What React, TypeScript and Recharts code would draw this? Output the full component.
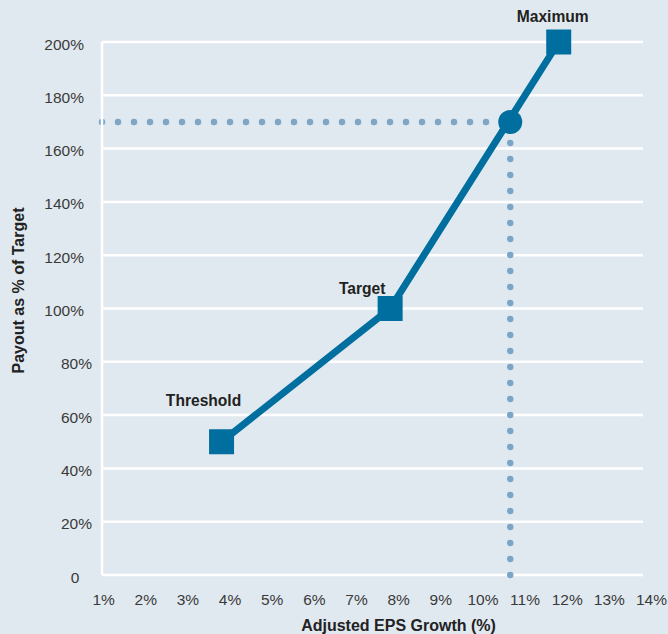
import React from "react";
import {
  ComposedChart,
  Line,
  XAxis,
  YAxis,
  CartesianGrid,
  ReferenceLine,
  ReferenceDot,
  LabelList,
  Label,
} from "recharts";

// payout curve points
const growth = [4, 8, 12];
const payout = [50, 100, 200];
const pointNames = ["Threshold", "Target", "Maximum"];

// actual result marker
const actualGrowth = 10.85;
const actualPayout = 170;

const xTicks = [1, 2, 3, 4, 5, 6, 7, 8, 9, 10, 11, 12, 13, 14];
const yTicks = [0, 20, 40, 60, 80, 100, 120, 140, 160, 180, 200];

const xMin = 1.163;
const xMax = 14;

const BLUE = "#006e9e";
const DOT_BLUE = "#7ba6c8";
const BG = "#e1e9f0";
const FONT = '"Liberation Sans", Arial, Helvetica, sans-serif';

const labelOffsets: Record<string, { dx: number; dy: number }> = {
  Threshold: { dx: -18, dy: -36 },
  Target: { dx: -28, dy: -15 },
  Maximum: { dx: -6, dy: -20 },
};

const data = growth.map((g, i) => ({ growth: g, payout: payout[i], name: pointNames[i] }));

function XTick(props: any) {
  const { x, y, payload } = props;
  return (
    <text x={x + 8.5} y={y + 29.5} textAnchor="middle" fill="#3a3a3a" fontSize={15.5} fontFamily={FONT}>
      {payload.value}%
    </text>
  );
}

function YTick(props: any) {
  const { x, y, payload } = props;
  const v = payload.value;
  if (v === 0) {
    return (
      <text x={x - 27} y={y + 7.5} textAnchor="middle" fill="#3a3a3a" fontSize={15.5} fontFamily={FONT}>
        0
      </text>
    );
  }
  const right = v >= 100 ? x - 18 : x - 10;
  return (
    <text x={right} y={y + 7.5} textAnchor="end" fill="#3a3a3a" fontSize={15.5} fontFamily={FONT}>
      {v}%
    </text>
  );
}

function SquareDot(props: any) {
  const { cx, cy } = props;
  if (cx == null || cy == null) return null;
  return <rect x={cx - 12.5} y={cy - 12.5} width={25} height={25} fill={BLUE} />;
}

function PointLabel(props: any) {
  const { x, y, value } = props;
  const off = labelOffsets[value] || { dx: 0, dy: 0 };
  return (
    <text
      x={x + off.dx}
      y={y + off.dy}
      textAnchor="middle"
      fill="#222"
      fontSize={15.6}
      fontWeight="bold"
      fontFamily={FONT}
    >
      {value}
    </text>
  );
}

export default function App() {
  return (
    <div
      style={{
        position: "absolute",
        left: 0,
        top: 0,
        width: 668,
        height: 634,
        background: BG,
        fontFamily: FONT,
      }}
    >
      <ComposedChart width={668} height={634} data={data} margin={{ top: 42, right: 25, bottom: 0, left: 0 }}>
        <CartesianGrid vertical={false} stroke="#ffffff" strokeWidth={2.5} />
        <XAxis
          type="number"
          dataKey="growth"
          domain={[xMin, xMax]}
          ticks={xTicks}
          interval={0}
          allowDataOverflow
          axisLine={false}
          tickLine={false}
          tickSize={0}
          tickMargin={0}
          tick={<XTick />}
          height={59}
          label={
            <Label
              content={({ viewBox }: any) => (
                <text
                  x={viewBox.x + viewBox.width / 2 + 26}
                  y={viewBox.y + viewBox.height - 3.5}
                  textAnchor="middle"
                  fill="#222"
                  fontSize={16}
                  fontWeight="bold"
                  fontFamily={FONT}
                >
                  Adjusted EPS Growth (%)
                </text>
              )}
            />
          }
        />
        <YAxis
          type="number"
          domain={[0, 200]}
          ticks={yTicks}
          interval={0}
          width={102}
          axisLine={{ stroke: "#ffffff", strokeWidth: 2.5 }}
          tickLine={false}
          tickSize={0}
          tickMargin={0}
          tick={<YTick />}
          label={
            <Label
              content={({ viewBox }: any) => {
                const cx = viewBox.x + 18;
                const cy = viewBox.y + viewBox.height / 2 - 18;
                return (
                  <text
                    x={cx}
                    y={cy}
                    transform={`rotate(-90, ${cx}, ${cy})`}
                    textAnchor="middle"
                    dominantBaseline="central"
                    fill="#222"
                    fontSize={16}
                    fontWeight="bold"
                    fontFamily={FONT}
                  >
                    Payout as % of Target
                  </text>
                );
              }}
            />
          }
        />
        <ReferenceLine
          segment={[
            { x: xMin, y: actualPayout },
            { x: actualGrowth, y: actualPayout },
          ]}
          stroke={DOT_BLUE}
          strokeWidth={6.5}
          strokeDasharray="0 16"
          strokeLinecap="round"
          ifOverflow="visible"
        />
        <ReferenceLine
          segment={[
            { x: actualGrowth, y: 0 },
            { x: actualGrowth, y: actualPayout },
          ]}
          stroke={DOT_BLUE}
          strokeWidth={6.5}
          strokeDasharray="0 16"
          strokeLinecap="round"
          ifOverflow="visible"
        />
        <Line
          type="linear"
          dataKey="payout"
          stroke={BLUE}
          strokeWidth={7}
          dot={<SquareDot />}
          activeDot={false}
          isAnimationActive={false}
        >
          <LabelList dataKey="name" content={<PointLabel />} />
        </Line>
        <ReferenceDot x={actualGrowth} y={actualPayout} r={12} fill={BLUE} stroke="none" ifOverflow="visible" />
      </ComposedChart>
    </div>
  );
}
